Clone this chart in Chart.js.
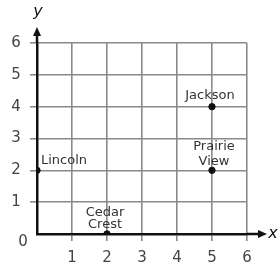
<!DOCTYPE html>
<html>
<head>
<meta charset="utf-8">
<script src="https://cdn.jsdelivr.net/npm/chart.js@4/dist/chart.umd.min.js"></script>
<style>
  html,body{margin:0;padding:0;background:#fff;}
  canvas{display:block;}
</style>
</head>
<body>
<canvas id="mapChart" width="279" height="272"></canvas>
<script>
// towns on the grid
const townNames = [['Lincoln'], ['Cedar', 'Crest'], ['Jackson'], ['Prairie', 'View']];
const townX = [0, 2, 5, 5];
const townY = [2, 0, 4, 2];

const xTickLabels = [1, 2, 3, 4, 5, 6];
const yTickLabels = [0, 1, 2, 3, 4, 5, 6];

// where each name sits relative to its dot (px)
const labelPlace = [
  { dx: 4, dy: -10, align: 'left', lh: 13 },
  { dx: -2, dy: -21, align: 'center', lh: 12 },
  { dx: -2, dy: -11, align: 'center', lh: 13 },
  { dx: 2, dy: -24, align: 'center', lh: 15 }
];

const gridGray = '#8a8a8a';
const ink = '#111';
const labelFont = '13px "DejaVu Sans", sans-serif';
const tickFont = '15px "DejaVu Sans", sans-serif';

const overlay = {
  id: 'overlay',
  afterDraw(chart) {
    const c = chart.ctx, xs = chart.scales.x, ys = chart.scales.y;
    const x0 = xs.getPixelForValue(0), y0 = ys.getPixelForValue(0);
    const xEnd = xs.getPixelForValue(6), yTop = ys.getPixelForValue(6);
    c.save();
    c.strokeStyle = ink; c.fillStyle = ink; c.lineWidth = 2.5;
    // axis extensions + arrow heads
    c.beginPath(); c.moveTo(x0, yTop); c.lineTo(x0, yTop - 9); c.stroke();
    c.beginPath(); c.moveTo(x0, yTop - 16); c.lineTo(x0 - 4, yTop - 7); c.lineTo(x0 + 4, yTop - 7); c.closePath(); c.fill();
    c.beginPath(); c.moveTo(xEnd, y0); c.lineTo(xEnd + 12, y0); c.stroke();
    c.beginPath(); c.moveTo(xEnd + 20, y0); c.lineTo(xEnd + 11, y0 - 4); c.lineTo(xEnd + 11, y0 + 4); c.closePath(); c.fill();
    // axis titles
    c.font = 'italic 16px "DejaVu Sans", sans-serif';
    c.textAlign = 'center'; c.textBaseline = 'middle';
    c.fillText('y', x0 + 1, 12);
    c.fillText('x', xEnd + 26, y0);
    // tick labels
    c.font = tickFont; c.fillStyle = '#444';
    xTickLabels.forEach(v => c.fillText(String(v), xs.getPixelForValue(v), y0 + 24));
    yTickLabels.forEach(v => {
      if (v === 0) c.fillText('0', x0 - 14, y0 + 8);
      else c.fillText(String(v), x0 - 21, ys.getPixelForValue(v));
    });
    // town names
    c.font = labelFont; c.fillStyle = '#333';
    townNames.forEach((lines, i) => {
      const px = xs.getPixelForValue(townX[i]), py = ys.getPixelForValue(townY[i]);
      const p = labelPlace[i];
      c.textAlign = p.align;
      lines.forEach((t, k) => c.fillText(t, px + p.dx, py + p.dy + k * p.lh));
    });
    c.restore();
  }
};

const axisOpts = {
  type: 'linear', min: 0, max: 6,
  ticks: { display: false, stepSize: 1 },
  grid: {
    color: gridGray, lineWidth: 1.6, drawTicks: true, tickLength: 7,
    tickColor: ctx => ctx.tick && ctx.tick.value === 0 ? 'rgba(0,0,0,0)' : gridGray
  },
  border: { display: true, color: ink, width: 2.5 }
};

new Chart(document.getElementById('mapChart'), {
  type: 'scatter',
  data: {
    datasets: [{
      data: townX.map((x, i) => ({ x, y: townY[i] })),
      backgroundColor: ink, borderColor: ink, pointRadius: 3.2
    }]
  },
  options: {
    responsive: false,
    animation: false,
    layout: { padding: { left: 30, right: 32, top: 43, bottom: 31 } },
    scales: { x: axisOpts, y: axisOpts },
    plugins: { legend: { display: false }, tooltip: { enabled: false } }
  },
  plugins: [overlay]
});
</script>
</body>
</html>
